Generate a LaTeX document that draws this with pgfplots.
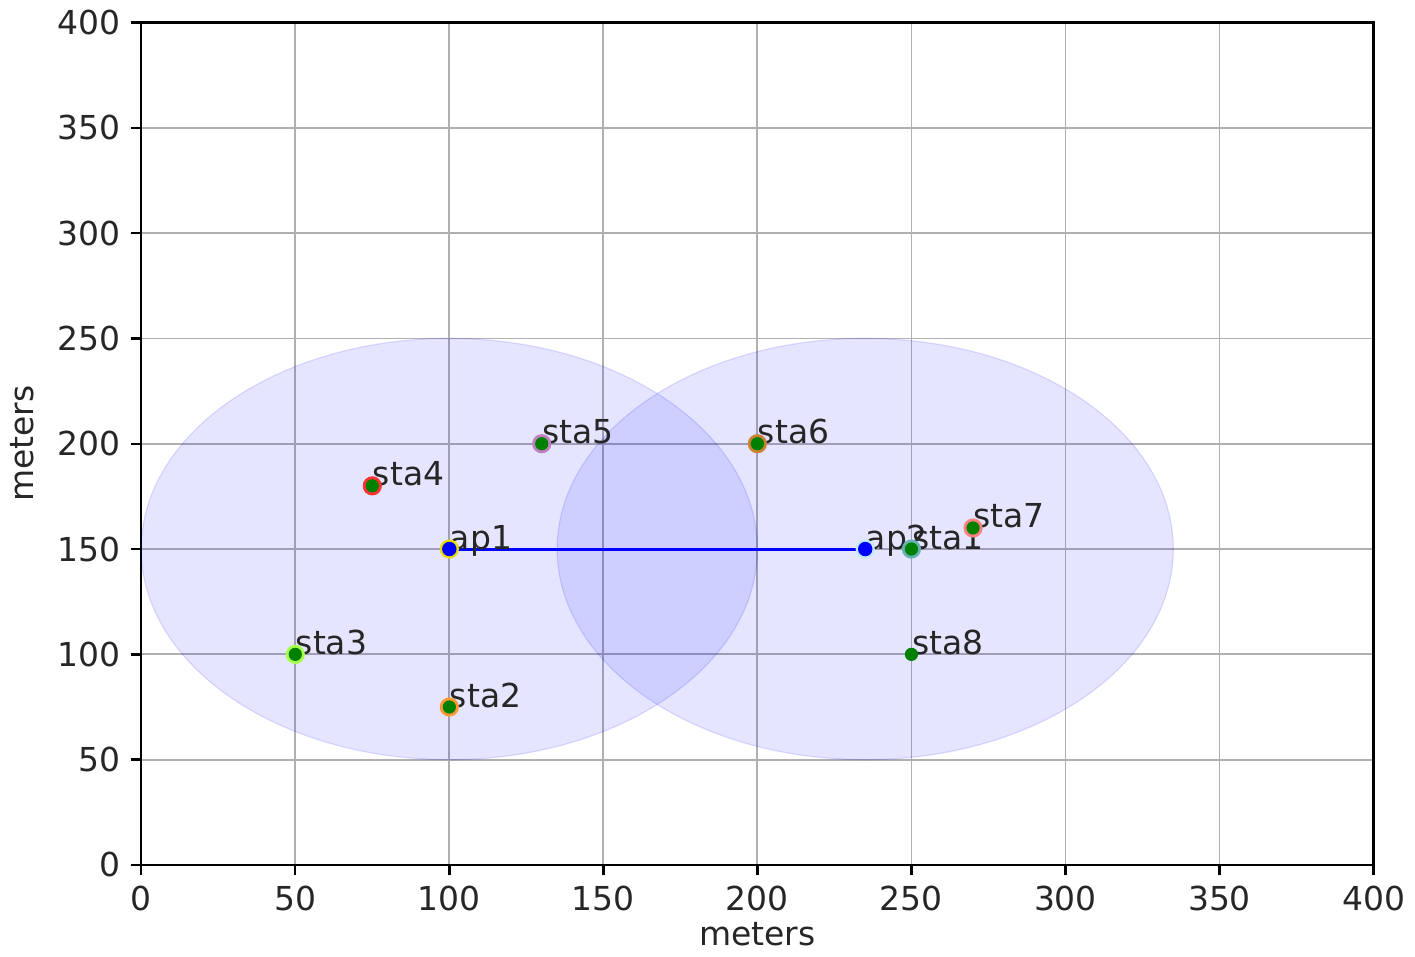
\documentclass[border=0pt]{standalone}
\usepackage{fontspec}
\setmainfont{DejaVu Sans}
\usepackage{pgfplots}
\pgfplotsset{compat=1.18}

\definecolor{gridgray}{HTML}{B0B0B0}
\definecolor{mplgreen}{HTML}{008000}

\pgfplotsset{halo/.style={only marks, mark=*, mark size=3pt, color=#1,
    mark options={draw=none, fill=#1}}}

\begin{document}
\begin{tikzpicture}
\begin{axis}[
    scale only axis,
    width=411pt, height=281pt,
    xmin=0, xmax=400, ymin=0, ymax=400,
    xtick={0,50,...,400}, ytick={0,50,...,400},
    grid=major,
    major grid style={gridgray, line width=0.6pt},
    tick align=outside,
    tick pos=left,
    major tick length=3.5pt,
    axis line style={black, line width=0.8pt},
    tick style={black, line width=0.8pt},
    xlabel={meters}, ylabel={meters},
    xlabel style={yshift=3pt},
    ylabel style={yshift=1pt},
    /pgf/number format/assume math mode=true,
    ticklabel style={font=\fontsize{11}{13}\selectfont, text=black!85},
    label style={font=\fontsize{11}{13}\selectfont, text=black!85},
]
% coverage ranges (radius 100 m)
\draw[blue, fill=blue, fill opacity=0.1, draw opacity=0.12]
    (axis cs:100,150) ellipse [x radius=100, y radius=100];
\draw[blue, fill=blue, fill opacity=0.1, draw opacity=0.12]
    (axis cs:235,150) ellipse [x radius=100, y radius=100];

% link between access points
\addplot[blue, line width=1pt] coordinates {(100,150) (235,150)};

% stations: coloured halo, green centre
\addplot[halo=teal!60] coordinates {(250,150)};
\addplot[halo=orange!80] coordinates {(100,75)};
\addplot[halo=green!50!yellow!70] coordinates {(50,100)};
\addplot[halo=red!80] coordinates {(75,180)};
\addplot[halo=violet!50] coordinates {(130,200)};
\addplot[halo=brown!80!orange] coordinates {(200,200)};
\addplot[halo=red!50] coordinates {(270,160)};
\addplot[only marks, mark=*, mark size=2pt, color=mplgreen,
    mark options={draw=none, fill=mplgreen}] coordinates {
    (250,150) (100,75) (50,100) (75,180) (130,200) (200,200) (270,160) (250,100)};

% access points
\addplot[halo=yellow!80!olive] coordinates {(100,150)};
\addplot[halo=cyan!25] coordinates {(235,150)};
\addplot[only marks, mark=*, mark size=2.2pt, color=blue,
    mark options={draw=none, fill=blue}] coordinates {(100,150) (235,150)};

\begin{scope}[every node/.style={anchor=base west, inner sep=0pt,
    font=\fontsize{11}{13}\selectfont, text=black!85}]
\node at (axis cs:100,150) {ap1};
\node at (axis cs:235,150) {ap2};
\node at (axis cs:250,150) {sta1};
\node at (axis cs:100,75) {sta2};
\node at (axis cs:50,100) {sta3};
\node at (axis cs:75,180) {sta4};
\node at (axis cs:130,200) {sta5};
\node at (axis cs:200,200) {sta6};
\node at (axis cs:270,160) {sta7};
\node at (axis cs:250,100) {sta8};
\end{scope}
\end{axis}
\end{tikzpicture}
\end{document}
